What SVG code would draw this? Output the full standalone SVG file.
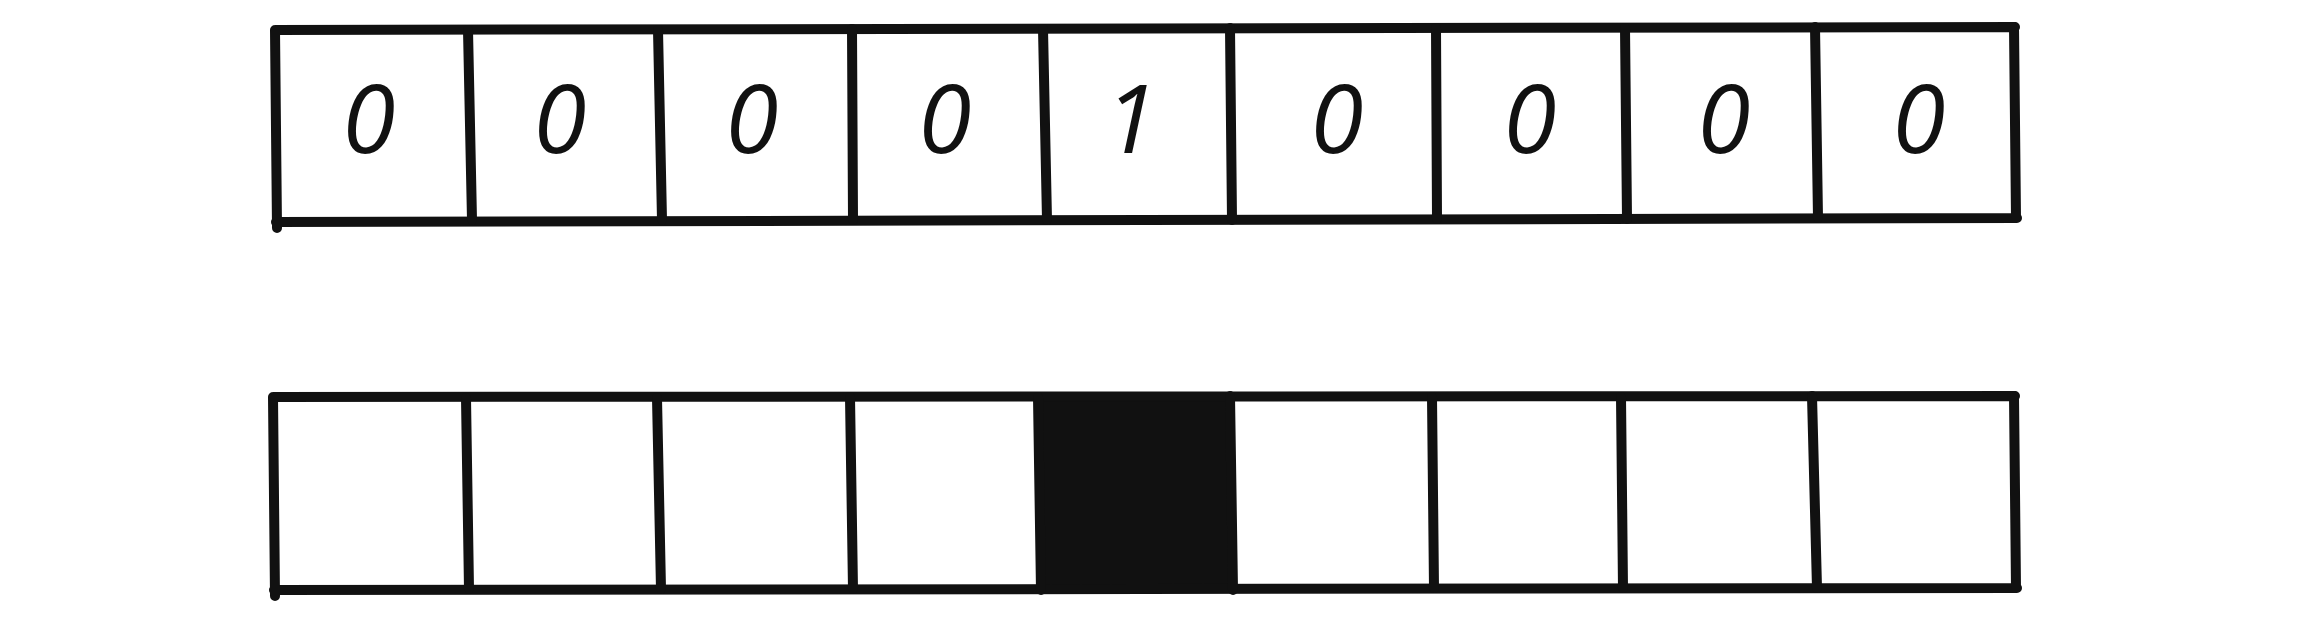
<svg xmlns="http://www.w3.org/2000/svg" width="2304" height="623" viewBox="0 0 2304 623">
<style>
.ln{stroke:#111;stroke-width:10;fill:none;stroke-linecap:round;stroke-linejoin:round}
.d{font-family:"Open Sans","Liberation Sans",sans-serif;font-style:italic;font-weight:400;font-size:96px;fill:#111;text-anchor:middle}
</style>
<rect width="2304" height="623" fill="#fff"/>
<g id="top-row">
<path class="ln" d="M275,30 L2015,27 M276,222 L2017,218 M275,30 L277,228 M2014,27 L2016,218"/>
<path class="ln" d="M468,30 L472,220 M658,30 L662,220 M852,29 L853,220 M1043,29 L1047,220 M1230,28 L1232,220 M1436,28 L1437,219 M1625,28 L1627,219 M1815,27 L1818,218"/>
<text class="d" x="369" y="153">0</text>
<text class="d" x="560" y="153">0</text>
<text class="d" x="752" y="153">0</text>
<text class="d" x="945" y="153">0</text>
<text class="d" x="1131" y="153">1</text>
<text class="d" x="1337" y="153">0</text>
<text class="d" x="1530" y="153">0</text>
<text class="d" x="1724" y="153">0</text>
<text class="d" x="1919" y="153">0</text>
</g>
<g id="bottom-row">
<rect x="1038" y="396" width="195" height="194" fill="#111"/>
<path class="ln" d="M273,397 L2015,396 M274,590 L2017,588 M273,397 L275,596 M2014,396 L2016,588"/>
<path class="ln" d="M466,398 L469,589 M657,398 L661,589 M850,397 L853,589 M1038,397 L1041,590 M1230,396 L1233,590 M1432,397 L1434,588 M1621,397 L1623,588 M1812,396 L1817,588"/>
</g>
</svg>
